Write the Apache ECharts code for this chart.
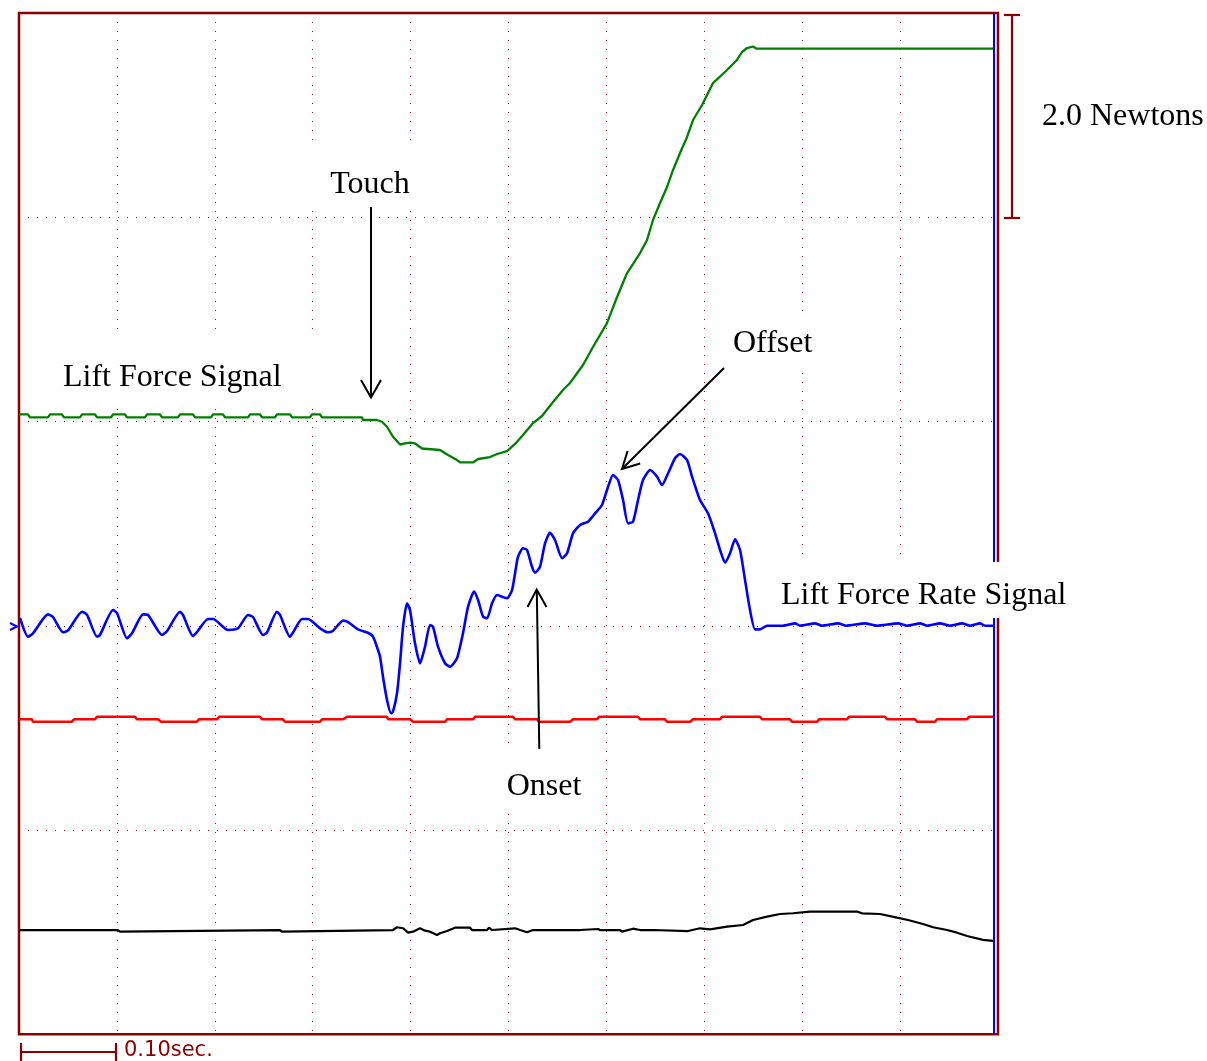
<!DOCTYPE html>
<html><head><meta charset="utf-8">
<script src="https://cdn.jsdelivr.net/npm/echarts@6/dist/echarts.min.js"></script>
<style>html,body{margin:0;padding:0;background:#fff}#c{width:1207px;height:1061px}</style>
</head><body><div id="c"></div>
<script>
// time in ms, values in Newtons-equivalent screen units (2.0 N per division)
const greenTime = [0,9.2,11.2,29.6,31.7,43.9,46,62.3,64.4,77.6,79.7,94,96,108.3,110.3,128.7,130.8,144,146,162.4,164.5,177.7,179.8,196.1,198.2,208.4,210.4,233.9,236,246.2,248.2,261.5,263.5,276.8,278.9,297.3,299.3,307.5,309.5,350.4,
 351.4,365.7,370.8,375.9,382,389.2,394.3,399.4,404.5,411.7,430,438.2,447.4,450.5,463.8,468.9,481.1,488.3,498.5,506.7,514.8,525.1,534.2,545.5,555.7,562.8,576.1,586.3,600.6,610.9,621.1,634.4,641.5,647.6,654.8,661.9,668.1,675.2,682.4,688.5,697.7,708.9,723.2,733.4,738.5,743.7,749.8,752.9,994.9];
const greenForce = [6.07,6.07,6.04,6.04,6.07,6.07,6.04,6.04,6.07,6.07,6.04,6.04,6.07,6.07,6.04,6.04,6.07,6.07,6.04,6.04,6.07,6.07,6.04,6.04,6.07,6.07,6.04,6.04,6.07,6.07,6.04,6.04,6.07,6.07,6.04,6.04,6.07,6.07,6.04,6.04,
 6.015,6.015,5.998,5.949,5.851,5.775,5.785,5.794,5.785,5.736,5.721,5.672,5.623,5.599,5.599,5.633,5.652,5.682,5.711,5.780,5.868,5.985,6.054,6.191,6.309,6.377,6.553,6.730,6.964,7.219,7.454,7.650,7.777,7.973,8.139,8.296,8.463,8.629,8.786,8.952,9.099,9.314,9.442,9.540,9.618,9.657,9.672,9.652,9.652];

const blueTime = [1,9.2,14.3,29.6,34.7,44.9,50.1,64.4,69.5,79.7,82.7,96,100.1,110.3,115.4,126.7,131.8,146.1,151.2,164.5,167.5,177.7,181.8,193.1,198.2,213.5,223.7,233.9,239,249.2,253.3,263.5,266.6,276.8,279.9,289.1,295.2,307.5,315.6,320.8,
 331,336.1,346.3,356.5,361.6,366.7,368.8,371.8,375.9,380,382,386.1,389.2,392.3,396.3,399.4,404.5,409.6,414.7,419.8,422.9,428,435.2,440.3,447.4,453.5,458.7,464.8,468.9,474,478.1,483.2,488.3,493.4,498.5,503.6,506.7,509.7,514.8,518.9,
 524,527.1,532.2,537.3,542.4,547.5,554.7,559.8,565.9,573.1,581.3,588.4,595.5,601.7,606.8,611.9,617,622.1,627.2,632.3,637.4,644.6,651.7,656.8,663,670.1,675.2,682.4,687.5,695.6,703.8,711,716.1,721.2,726.3,731.4,736.5,741.6,746.7,751.8,
 756.9,764.1,780.4,792.7,797.8,813.1,820.2,836.6,844.8,864.2,876.4,897.9,907.1,920.4,927.5,940.8,951,963.3,971.4,981.7,986.8,994.9];
const blueRate = [4.076,3.893,3.926,4.112,4.086,3.936,3.954,4.138,4.106,3.893,3.910,4.154,4.125,3.877,3.926,4.112,4.106,3.910,3.949,4.138,4.106,3.900,3.939,4.066,4.066,3.959,3.975,4.106,4.086,3.910,3.934,4.138,4.106,3.893,3.934,4.066,4.066,3.975,3.936,3.952,
 4.050,4.037,3.965,3.932,3.893,3.763,3.697,3.501,3.273,3.143,3.159,3.339,3.633,3.991,4.220,4.154,3.828,3.633,3.795,4.008,3.991,3.795,3.633,3.599,3.682,3.926,4.187,4.334,4.252,4.089,4.073,4.220,4.301,4.285,4.269,4.350,4.514,4.676,4.759,4.742,
 4.578,4.520,4.578,4.808,4.911,4.840,4.661,4.710,4.905,4.987,5.019,5.101,5.183,5.362,5.476,5.427,5.231,5.003,5.019,5.231,5.427,5.525,5.460,5.378,5.493,5.640,5.682,5.623,5.460,5.231,5.101,4.905,4.742,4.618,4.710,4.847,4.742,4.448,4.154,3.965,
 3.965,4.001,4.001,4.024,4.001,4.024,4.001,4.024,4.001,4.024,4.001,4.024,4.001,4.024,4.001,4.024,4.001,4.024,4.001,4.024,4.001,4.001];

const redTime = [0,13.3,14.3,54.1,56.2,77.6,79.7,118.5,120.5,142,145.1,181.8,183.9,202.3,204.3,246.2,248.2,269.7,271.7,307.5,309.5,331,335.1,375.9,376.9,399.4,402.5,435.2,437.2,463.8,465.8,504.6,
 506.7,529.1,531.2,562.8,565.9,590.4,592.5,632.3,634.4,659.9,661.9,685.4,688.5,716.1,718.1,756.9,759,787.6,789.6,815.2,817.2,845.8,847.8,884.6,886.7,915.3,917.3,935.7,937.7,968.4,970.4,994.9];
const redLevel = [3.084,3.084,3.061,3.061,3.084,3.084,3.110,3.110,3.084,3.084,3.061,3.061,3.084,3.084,3.110,3.110,3.084,3.084,3.061,3.061,3.084,3.084,3.110,3.110,3.084,3.084,3.061,3.061,3.084,3.084,3.110,3.110,
 3.084,3.084,3.061,3.061,3.084,3.084,3.110,3.110,3.084,3.084,3.061,3.061,3.084,3.084,3.110,3.110,3.084,3.084,3.061,3.061,3.084,3.084,3.110,3.110,3.084,3.084,3.061,3.061,3.084,3.084,3.110,3.110];

const blackTime = [0,101.1,103.2,105.2,266.6,268.7,270.7,382,386.1,392.3,397.4,402.5,409.6,414.7,419.8,427,430,437.2,445.4,460.7,462.7,478.1,480.1,483.2,506.7,511.8,518.9,525.1,571,572,
 573.1,591.4,593.5,613.9,616,627.2,634.4,647.6,683.4,695.6,705.9,723.2,739.6,749.8,764.1,777.4,790.6,808,856,861.2,879.5,896.9,908.1,923.4,933.7,948,958.2,968.4,984.7,994.9];
const blackLevel = [1.021,1.021,1.005,1.021,1.021,1.005,1.021,1.021,1.048,1.038,0.995,1.005,1.038,1.015,1.005,0.972,0.989,1.011,1.044,1.044,1.021,1.021,1.044,1.021,1.038,1.021,0.999,1.021,1.021,1.005,
 1.021,1.031,1.021,1.021,1.005,1.034,1.021,1.021,1.011,1.038,1.028,1.054,1.070,1.119,1.152,1.178,1.185,1.201,1.201,1.185,1.178,1.142,1.119,1.080,1.048,1.021,0.995,0.963,0.924,0.914];

const cursorTime = 995.4;
const timeTicks = [0, 1000, 100];   // min, max, interval (ms)
const forceTicks = [0, 10, 2];      // min, max, interval (N)

function zip(t, v) { return t.map((x, i) => [x, v[i]]); }

const frame = '#8B0000';
const dotted = { show: true, lineStyle: { color: frame, width: 1, type: [1, 8], opacity: 0.9 } };
const serif = '32px "Liberation Serif", "Times New Roman", serif';

function label(text, x, y, align, font, color) {
  return { type: 'text', z: 110, silent: true,
    style: { text: text, x: x, y: y, font: font || serif, fill: color || '#000',
      align: align || 'left', verticalAlign: 'middle', textAlign: align || 'left', textVerticalAlign: 'middle' } };
}
function box(x, y, w, h) { return { type: 'rect', z: 105, silent: true, shape: { x: x, y: y, width: w, height: h }, style: { fill: '#fff' } }; }
function seg(x1, y1, x2, y2, color, w) { return { type: 'line', z: 110, silent: true, shape: { x1: x1, y1: y1, x2: x2, y2: y2 }, style: { stroke: color || '#000', lineWidth: w || 2 } }; }
function poly(points, color, w) { return { type: 'polyline', z: 110, silent: true, shape: { points: points }, style: { stroke: color || '#000', lineWidth: w || 2, fill: null } }; }

const chart = echarts.init(document.getElementById('c'), null, { renderer: 'canvas' });
function lineSeries(name, data, color, width, extra) {
  return Object.assign({ name: name, type: 'line', data: data, showSymbol: false, symbol: 'none', smooth: false,
    lineStyle: { color: color, width: width }, itemStyle: { color: color }, animation: false, silent: true }, extra || {});
}

chart.setOption({
  animation: false,
  backgroundColor: '#fff',
  grid: { left: 19, top: 13, width: 979, height: 1021.3, show: true, borderColor: frame, borderWidth: 2.5, backgroundColor: 'transparent' },
  xAxis: { type: 'value', min: timeTicks[0], max: timeTicks[1], interval: timeTicks[2],
    axisLine: { show: false }, axisTick: { show: false }, axisLabel: { show: false }, splitLine: dotted },
  yAxis: { type: 'value', min: forceTicks[0], max: forceTicks[1], interval: forceTicks[2],
    axisLine: { show: false }, axisTick: { show: false }, axisLabel: { show: false }, splitLine: dotted },
  series: [
    lineSeries('Lift Force Signal', zip(greenTime, greenForce), '#008000', 2.3),
    lineSeries('Lift Force Rate Signal', zip(blueTime, blueRate), '#0000FF', 2.6, {
      smooth: 0.2,
      markLine: { silent: true, symbol: ['none', 'none'], label: { show: false }, animation: false,
        lineStyle: { color: '#0000FF', width: 2, type: 'solid' }, data: [{ xAxis: cursorTime }] } }),
    lineSeries('Channel 3', zip(redTime, redLevel), '#FF0000', 2.5),
    lineSeries('Channel 4', zip(blackTime, blackLevel), '#000000', 2.2)
  ],
  graphic: { elements: [
    // white label boxes
    box(310, 143, 110, 63),
    box(45, 336, 275, 71),
    box(716, 312, 112, 56),
    box(770, 562, 305, 56),
    box(496, 747, 100, 63),
    // labels
    label('Touch', 370, 184.5, 'center'),
    label('Lift Force Signal', 63, 377.5),
    label('Offset', 733, 343.5),
    label('Lift Force Rate Signal', 781, 595.5),
    label('Onset', 544, 786.5, 'center'),
    label('2.0 Newtons', 1042, 116.5),
    label('0.10sec.', 124, 1051, 'left', '21px "DejaVu Sans", sans-serif', frame),
    // arrows
    seg(371, 207, 371, 397),
    poly([[361, 380], [371, 397.5], [381, 380]]),
    seg(539.3, 749, 536.8, 591),
    poly([[527.5, 607], [536.7, 589.5], [546.5, 607]]),
    seg(724, 368, 623, 468),
    poly([[627.6, 451], [622, 469], [640.2, 463.5]]),
    // channel marker
    poly([[10, 623], [17, 626.5], [10, 630]], '#0000FF', 2),
    // scale bars
    seg(1012, 15, 1012, 218, frame, 2.2),
    seg(1004, 15, 1020, 15, frame, 2.2),
    seg(1004, 218, 1020, 218, frame, 2.2),
    seg(20, 1052, 116, 1052, frame, 2.2),
    seg(21, 1043, 21, 1061, frame, 2.2),
    seg(116, 1043, 116, 1061, frame, 2.2)
  ] }
});
</script></body></html>
